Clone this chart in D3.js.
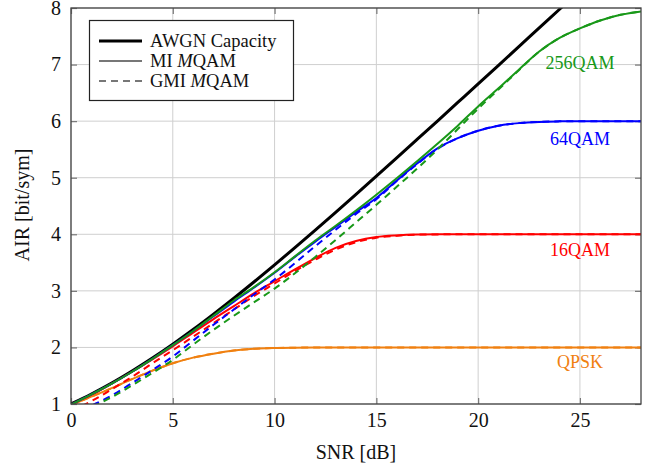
<!DOCTYPE html>
<html>
<head>
<meta charset="utf-8">
<script src="https://cdn.jsdelivr.net/npm/d3@7"></script>
<style>
  html, body { margin: 0; padding: 0; background: #fff; }
  svg { display: block; }
  svg text { font-family: "Liberation Serif", "DejaVu Serif", serif !important; }
</style>
</head>
<body>
<svg id="chart" width="662" height="468" font-family="Liberation Serif, serif"></svg>
<script>
// ---- data ----
const snrDb = [0,1,2,3,4,5,6,7,8,9,10,11,12,13,14,15,16,17,18,19,20,21,22,23,24,25,26,27,28];
const capSnr = [0,1,2,3,4,5,6,7,8,9,10,11,12,13,14,15,16,17,18,19,20,21,22,23,24,25];
const awgnCapacity = [1.000,1.176,1.370,1.583,1.812,2.057,2.316,2.588,2.870,3.161,3.459,3.764,4.075,4.389,4.707,5.028,5.351,5.676,6.002,6.330,6.658,6.987,7.317,7.648,7.978,8.309];

const qpskMI  = [0.98,1.13,1.28,1.44,1.59,1.72,1.82,1.89,1.944,1.976,1.99,1.996,1.999,2,2,2,2,2,2,2,2,2,2,2,2,2,2,2,2];
const qpskGMI = [0.98,1.13,1.28,1.44,1.59,1.72,1.82,1.89,1.944,1.976,1.99,1.996,1.999,2,2,2,2,2,2,2,2,2,2,2,2,2,2,2,2];
const qam16MI  = [0.99,1.16,1.36,1.57,1.79,2.02,2.26,2.50,2.73,2.96,3.17,3.38,3.58,3.76,3.88,3.95,3.98,3.995,3.999,4,4,4,4,4,4,4,4,4,4];
const qam16GMI = [0.88,1.05,1.26,1.48,1.72,1.95,2.19,2.43,2.67,2.91,3.13,3.35,3.55,3.73,3.86,3.94,3.975,3.993,3.998,4,4,4,4,4,4,4,4,4,4];
const qam64MI  = [0.99,1.17,1.36,1.57,1.80,2.04,2.29,2.55,2.81,3.06,3.32,3.60,3.87,4.13,4.39,4.64,4.95,5.25,5.52,5.70,5.83,5.92,5.965,5.987,5.996,5.999,6,6,6];
const qam64GMI = [0.80,0.97,1.15,1.37,1.60,1.84,2.12,2.40,2.67,2.94,3.20,3.49,3.79,4.08,4.36,4.62,4.94,5.24,5.51,5.70,5.83,5.92,5.965,5.987,5.996,5.999,6,6,6];
const qam256MI  = [0.99,1.17,1.36,1.57,1.80,2.04,2.29,2.56,2.83,3.07,3.33,3.61,3.89,4.15,4.42,4.70,4.99,5.29,5.60,5.92,6.26,6.58,6.91,7.23,7.47,7.64,7.78,7.88,7.94];
const qam256GMI = [0.78,0.94,1.12,1.33,1.55,1.78,2.05,2.31,2.56,2.80,3.04,3.31,3.60,3.90,4.21,4.52,4.84,5.16,5.50,5.86,6.22,6.56,6.90,7.23,7.47,7.64,7.78,7.88,7.94];

const formats = ["QPSK", "16QAM", "64QAM", "256QAM"];
const formatColors = ["#f08010", "#ff0000", "#0000ff", "#189818"];
const formatLabelX = [25, 25, 25, 25];
const formatLabelY = [1.64, 3.62, 5.58, 6.92];

const xTicks = [0, 5, 10, 15, 20, 25];
const yTicks = [1, 2, 3, 4, 5, 6, 7, 8];
const legendLabels = ["AWGN Capacity", "MI", "GMI"];

// ---- layout ----
const W = 662, H = 468;
const mLeft = 71, mRight = 641, mTop = 8, mBottom = 404;
const svg = d3.select("#chart");
const serif = "'Liberation Serif', 'DejaVu Serif', serif";

const x = d3.scaleLinear().domain([0, 28]).range([mLeft, mRight]);
const y = d3.scaleLinear().domain([1, 8]).range([mBottom, mTop]);

// grid
const grid = svg.append("g");
grid.selectAll("line.gx").data(xTicks).join("line")
  .attr("x1", d => x(d)).attr("x2", d => x(d))
  .attr("y1", mTop).attr("y2", mBottom)
  .attr("stroke", "#cfcfcf").attr("stroke-width", 1);
grid.selectAll("line.gy").data(yTicks).join("line")
  .attr("x1", mLeft).attr("x2", mRight)
  .attr("y1", d => y(d)).attr("y2", d => y(d))
  .attr("stroke", "#cfcfcf").attr("stroke-width", 1);

// axes with inner ticks
const tickLen = 6;
const fmt = d3.format("d");
const xAxisB = d3.axisBottom(x).tickValues(xTicks).tickFormat(fmt).tickSizeInner(-tickLen).tickSizeOuter(0).tickPadding(9);
const xAxisT = d3.axisTop(x).tickValues(xTicks).tickSizeInner(-tickLen).tickSizeOuter(0).tickFormat("");
const yAxisL = d3.axisLeft(y).tickValues(yTicks).tickFormat(fmt).tickSizeInner(-tickLen).tickSizeOuter(0).tickPadding(10);
const yAxisR = d3.axisRight(y).tickValues(yTicks).tickSizeInner(-tickLen).tickSizeOuter(0).tickFormat("");

function styleAxis(g) {
  g.attr("font-family", serif).attr("font-size", 20);
  g.select(".domain").remove();
  g.selectAll(".tick line").attr("stroke", "#777").attr("stroke-width", 1.2);
  g.selectAll(".tick text").attr("fill", "#111")
    .style("font-family", serif).style("font-size", "20px");
}
svg.append("g").attr("transform", `translate(0,${mBottom})`).call(xAxisB).call(styleAxis);
svg.append("g").attr("transform", `translate(0,${mTop})`).call(xAxisT).call(styleAxis);
svg.append("g").attr("transform", `translate(${mLeft},0)`).call(yAxisL).call(styleAxis);
svg.append("g").attr("transform", `translate(${mRight},0)`).call(yAxisR).call(styleAxis);

// clip
svg.append("clipPath").attr("id", "plotclip")
  .append("rect").attr("x", mLeft).attr("y", mTop).attr("width", mRight - mLeft).attr("height", mBottom - mTop);

const plot = svg.append("g").attr("clip-path", "url(#plotclip)");
const line = d3.line().x(d => x(d[0])).y(d => y(d[1])).curve(d3.curveMonotoneX);

// AWGN capacity
plot.append("path")
  .datum(capSnr.map((s, i) => [s, awgnCapacity[i]]))
  .attr("d", line).attr("fill", "none")
  .attr("stroke", "#000").attr("stroke-width", 3);

const miSeries = [qpskMI, qam16MI, qam64MI, qam256MI];
const gmiSeries = [qpskGMI, qam16GMI, qam64GMI, qam256GMI];
formats.forEach((f, k) => {
  plot.append("path")
    .datum(snrDb.map((s, i) => [s, miSeries[k][i]]))
    .attr("d", line).attr("fill", "none")
    .attr("stroke", formatColors[k]).attr("stroke-width", 2);
  plot.append("path")
    .datum(snrDb.map((s, i) => [s, gmiSeries[k][i]]))
    .attr("d", line).attr("fill", "none")
    .attr("stroke", formatColors[k]).attr("stroke-width", 2)
    .attr("stroke-dasharray", "7,5");
});

// frame
svg.append("rect").attr("x", mLeft).attr("y", mTop)
  .attr("width", mRight - mLeft).attr("height", mBottom - mTop)
  .attr("fill", "none").attr("stroke", "#444").attr("stroke-width", 1.3);

// curve labels
svg.selectAll("text.flabel").data(formats).join("text")
  .attr("class", "flabel")
  .attr("x", (d, i) => x(formatLabelX[i]))
  .attr("y", (d, i) => y(formatLabelY[i]))
  .attr("text-anchor", "middle")
  .attr("fill", (d, i) => formatColors[i])
  .style("font-family", serif)
  .style("font-size", "18px")
  .text(d => d);

// axis labels
svg.append("text").attr("x", (mLeft + mRight) / 2).attr("y", 459)
  .attr("text-anchor", "middle").attr("fill", "#111")
  .style("font-family", serif)
  .style("font-size", "20px").text("SNR [dB]");
svg.append("text").attr("transform", `translate(29,205) rotate(-90)`)
  .attr("text-anchor", "middle").attr("fill", "#111")
  .style("font-family", serif)
  .style("font-size", "20px").text("AIR [bit/sym]");

// legend
const lg = svg.append("g");
lg.append("rect").attr("x", 89.5).attr("y", 20.5).attr("width", 204).attr("height", 80)
  .attr("fill", "#fff").attr("stroke", "#222").attr("stroke-width", 1.2);
const legendStyles = [
  { stroke: "#000", width: 3, dash: null },
  { stroke: "#777", width: 1.8, dash: null },
  { stroke: "#777", width: 1.8, dash: "7,5" }
];
legendLabels.forEach((lab, i) => {
  const cy = 41 + i * 20;
  lg.append("line").attr("x1", 99).attr("x2", 142).attr("y1", cy).attr("y2", cy)
    .attr("stroke", legendStyles[i].stroke).attr("stroke-width", legendStyles[i].width)
    .attr("stroke-dasharray", legendStyles[i].dash);
  const t = lg.append("text").attr("x", 150).attr("y", cy + 6).attr("fill", "#111")
    .style("font-family", serif)
    .style("font-size", "18.5px");
  if (i === 0) {
    t.text(lab);
  } else {
    t.append("tspan").text(lab + " ");
    t.append("tspan").style("font-style", "italic").text("M");
    t.append("tspan").text("QAM");
  }
});
</script>
</body>
</html>
